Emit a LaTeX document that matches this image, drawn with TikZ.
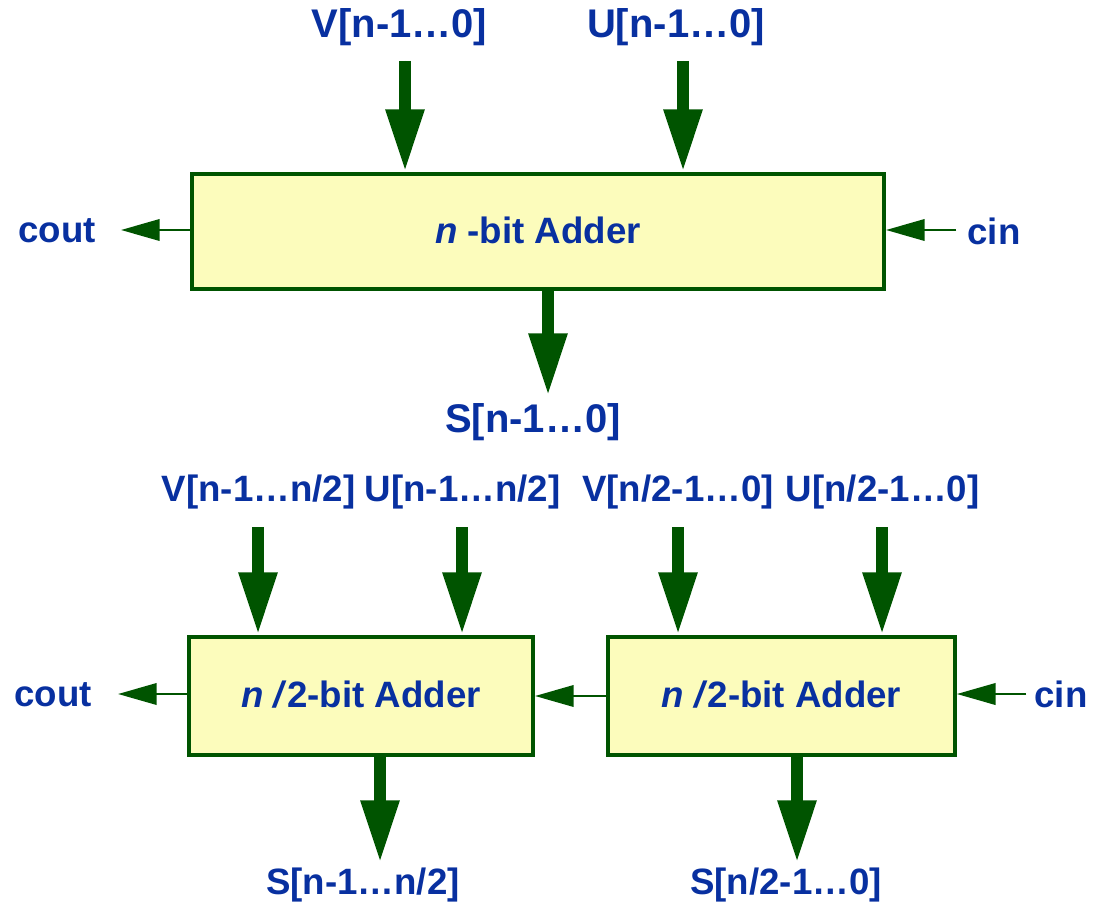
\documentclass[tikz,border=0pt]{standalone}
\usepackage{fontspec}
\setmainfont{Liberation Sans}
\usetikzlibrary{arrows.meta}
\definecolor{wire}{RGB}{0,84,0}
\definecolor{lbl}{RGB}{8,48,160}
\definecolor{boxfill}{RGB}{252,252,188}
\tikzset{
  lab/.style={text=lbl, font=\fontsize{27.5}{33}\selectfont\bfseries, inner sep=0pt},
  buslab/.style={lab, font=\fontsize{30}{36}\selectfont\bfseries},
  adder/.style={draw=wire, fill=boxfill, line width=3pt, inner sep=0pt,
                text=lbl, font=\fontsize{27.5}{33}\selectfont\bfseries},
  busarrow/.style={draw=wire, line width=9pt,
                   -{Triangle[width=27pt,length=47pt]}, fill=wire},
  bitarrow/.style={draw=wire, line width=2pt,
                   -{Triangle[width=16pt,length=29pt]}, fill=wire},
}
\begin{document}
\begin{tikzpicture}[x=0.75pt,y=-0.75pt]
\useasboundingbox (0,0) rectangle (1093,906);

% ---- n-bit adder ----
\node[adder, minimum width=519pt, minimum height=86.25pt] (big) at (538,231.5)
  {\raisebox{2.5pt}{\textit{n} -bit Adder}};
\node[buslab] (vtop) at (399.5,27) {V[n-1…0]};
\node[buslab] (utop) at (676,27) {U[n-1…0]};
\node[buslab] (stop) at (533,422) {S[n-1…0]};
\node[lab] (couttop) at (57,231) {cout};
\node[lab] (cintop) at (994,231) {cin};
\coordinate (vtops) at (405,61);
\coordinate (utops) at (683,61);
\coordinate (stope) at (548,396);
\coordinate (cintops) at (956,230);
\coordinate (couttope) at (121,230);
\draw[busarrow] (vtops) -- (vtops |- big.north);
\draw[busarrow] (utops) -- (utops |- big.north);
\draw[busarrow] (stope |- big.south) -- (stope);
\draw[bitarrow] (cintops) -- (cintops -| big.east);
\draw[bitarrow] (couttope -| big.west) -- (couttope);

% ---- two n/2-bit adders ----
\node[adder, minimum width=258pt, minimum height=88.5pt] (hi) at (361,696)
  {\raisebox{2.5pt}{\textit{n /}2-bit Adder}};
\node[adder, minimum width=260pt, minimum height=88.5pt] (lo) at (781.5,696)
  {\raisebox{2.5pt}{\textit{n /}2-bit Adder}};
\node[lab] (vhi) at (258.5,492) {V[n-1…n/2]};
\node[lab] (uhi) at (462.5,492) {U[n-1…n/2]};
\node[lab] (vlo) at (678,492) {V[n/2-1…0]};
\node[lab] (ulo) at (882.5,492) {U[n/2-1…0]};
\node[lab] (shi) at (363,885) {S[n-1…n/2]};
\node[lab] (slo) at (786,885) {S[n/2-1…0]};
\node[lab] (coutbot) at (53,695) {cout};
\node[lab] (cinbot) at (1061,694) {cin};
\coordinate (vhis) at (258,527);
\coordinate (uhis) at (462,527);
\coordinate (vlos) at (678,527);
\coordinate (ulos) at (882,527);
\coordinate (shie) at (380,863);
\coordinate (sloe) at (797,863);
\coordinate (cinbots) at (1026,694);
\coordinate (coutbote) at (118,694);
\draw[busarrow] (vhis) -- (vhis |- hi.north);
\draw[busarrow] (uhis) -- (uhis |- hi.north);
\draw[busarrow] (vlos) -- (vlos |- lo.north);
\draw[busarrow] (ulos) -- (ulos |- lo.north);
\draw[busarrow] (shie |- hi.south) -- (shie);
\draw[busarrow] (sloe |- lo.south) -- (sloe);
\draw[bitarrow] (cinbots) -- (cinbots -| lo.east);
\draw[bitarrow] (lo.west) -- (hi.east);
\draw[bitarrow] (coutbote -| hi.west) -- (coutbote);
\end{tikzpicture}
\end{document}
